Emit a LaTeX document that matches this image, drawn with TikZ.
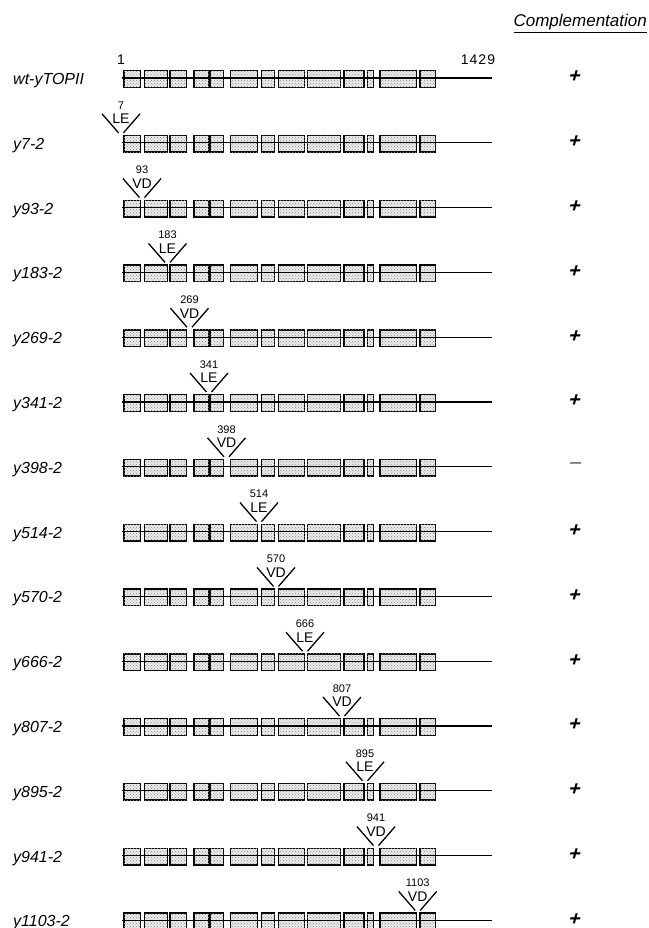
\documentclass[tikz,border=0pt]{standalone}
\usepackage{fontspec}
\setmainfont{Liberation Sans}
\usetikzlibrary{patterns}
\begin{document}
\begin{tikzpicture}[x=1pt,y=-1pt]
\tikzset{
 exon/.style={draw=black, line width=1.4pt, fill=black!8, postaction={pattern=crosshatch dots, pattern color=black!45}, minimum height=16.5pt, inner sep=0pt, anchor=west},
 dna/.style={line width=1.1pt},
 rowlabel/.style={anchor=base west, font=\fontsize{16}{16}\selectfont\itshape, inner sep=0pt},
 inslabel/.style={font=\fontsize{14}{14}\selectfont, inner sep=0pt},
 insnum/.style={font=\fontsize{11}{11}\selectfont, inner sep=0pt},
 vee/.style={line width=1.3pt},
 result/.style={font=\fontsize{20}{20}\selectfont\bfseries, inner sep=0pt, xslant=0.28, transform shape},
 coord/.style={font=\fontsize{14}{14}\selectfont, inner sep=0pt},
 compl/.style={font=\fontsize{17}{17}\selectfont\itshape, inner sep=0pt, anchor=base east}
}
\useasboundingbox (0,0) rectangle (648,928);
\node[compl] (compl) at (647,27) {\underline{Complementation}};
\node[coord] (start) at (121,60) {1};
\node[coord] (stop) at (478,60) {1\kern1pt4\kern1pt2\kern1pt9};
% rows
\foreach \k/\lab/\mx/\typ/\num/\res in {
 0/wt-yTOPII/0/{}/{}/+,
 1/y7-2/121/LE/7/+,
 2/y93-2/142/VD/93/+,
 3/y183-2/167.5/LE/183/+,
 4/y269-2/189.5/VD/269/+,
 5/y341-2/209/LE/341/+,
 6/y398-2/226.5/VD/398/{\mdseries\color{black!70}\textendash},
 7/y514-2/259/LE/514/+,
 8/y570-2/276/VD/570/+,
 9/y666-2/305/LE/666/+,
 10/y807-2/342/VD/807/+,
 11/y895-2/365/LE/895/+,
 12/y941-2/376/VD/941/+,
 13/y1103-2/417.7/VD/1103/+}
{
 \pgfmathsetmacro\y{79+64.8*\k}
 \node[rowlabel] (lab-\k) at (13,\y+5.5) {\lab};
 \foreach \i/\a/\b in {1/123.3/140, 2/144/166.7, 3/169.3/186, 4/193.3/208.3, 5/209.3/222.7, 6/230/256.7, 7/261/274, 8/277.7/304, 9/306.7/340, 10/343.3/363.3, 11/366.7/372.7, 12/379.3/416, 13/419.3/435}
 {
  \pgfmathsetmacro\w{\b-\a}
  \node[exon, minimum width=\w pt] (ex-\k-\i) at (\a,\y) {};
 }
 \coordinate (s-\k) at (122,\y-1);
 \coordinate (e-\k) at (492,\y-1);
 \draw[dna] (s-\k) -- (e-\k);
 \node[result] (res-\k) at (575,\y-2) {\res};
 \ifnum\k>0
  \coordinate (vl1-\k) at (\mx-19,\y-30);
  \coordinate (vl2-\k) at (\mx-2.5,\y-11);
  \coordinate (vr1-\k) at (\mx+19,\y-30);
  \coordinate (vr2-\k) at (\mx+2.5,\y-11);
  \draw[vee] (vl1-\k) -- (vl2-\k);
  \draw[vee] (vr1-\k) -- (vr2-\k);
  \node[inslabel] (ins-\k) at (\mx,\y-25) {\typ};
  \node[insnum] (num-\k) at (\mx,\y-38.5) {\num};
 \fi
}
\end{tikzpicture}
\end{document}
